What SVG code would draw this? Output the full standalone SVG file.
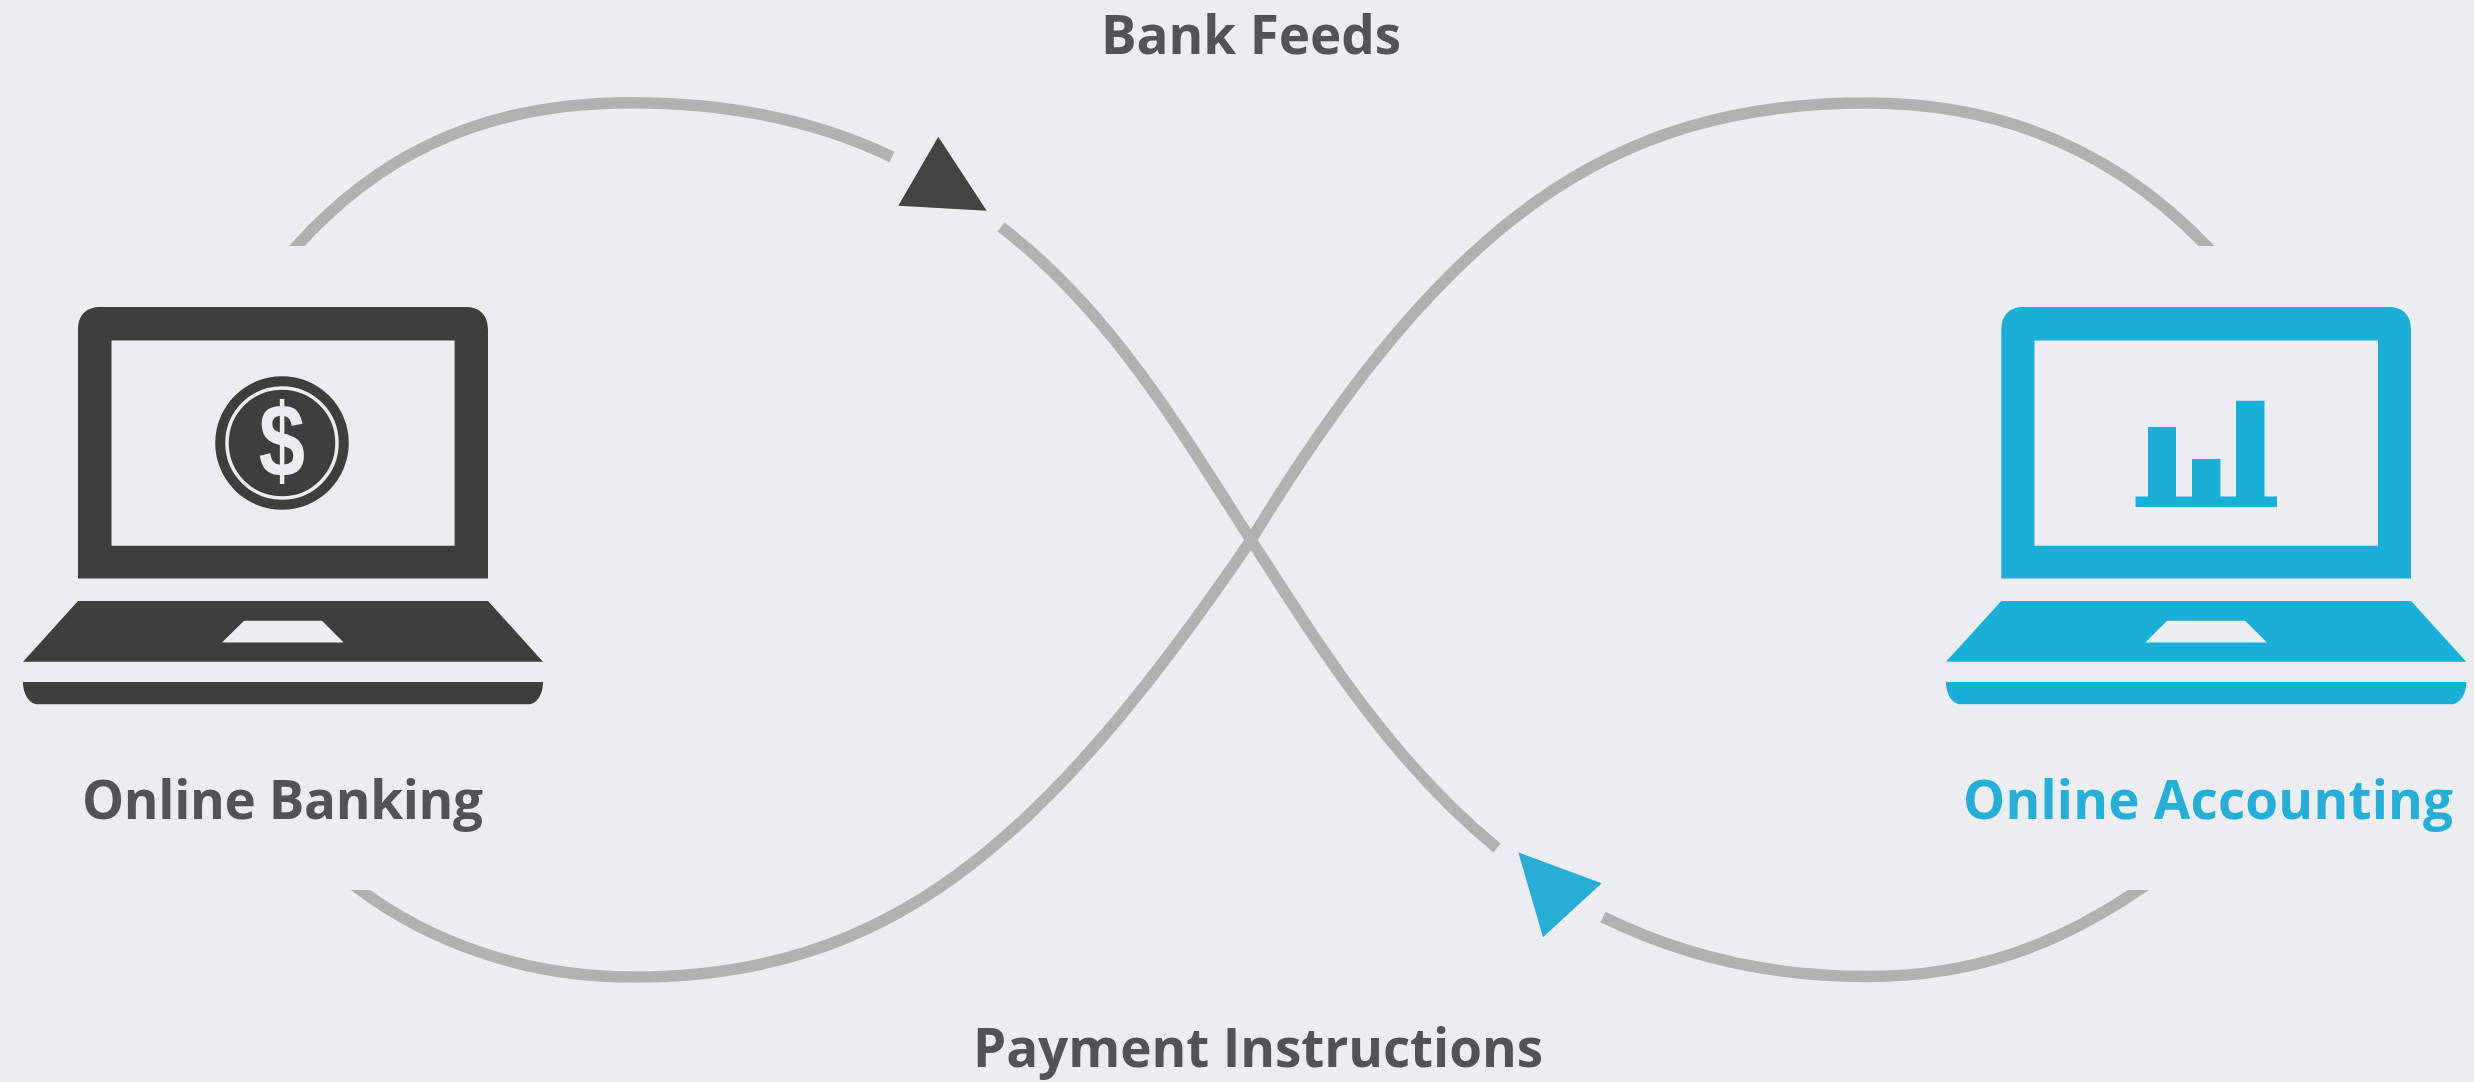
<svg xmlns="http://www.w3.org/2000/svg" width="2474" height="1082" viewBox="0 0 2474 1082">
<style>
.lbl{font-family:"Open Sans","Noto Sans",sans-serif;font-weight:700;font-size:53px;fill:#545259}
.curve{fill:none;stroke:#b1b1b1;stroke-width:11.5}
.dark{fill:#3e3e3c}
.blue{fill:#19afd7}
</style>
<defs>
<clipPath id="endClip"><path clip-rule="evenodd" d="M0 0H2474V1082H0ZM0 246V890H500V246ZM1970 246V890H2474V246Z"/></clipPath>
</defs>
<rect width="2474" height="1082" fill="#ecedf1"/>
<g id="connectors">
<g clip-path="url(#endClip)">
<path class="curve" d="M286 258L296.7 246C370 165 470 102.7 631 102.7C725 102.7 815 120 892 157"/>
<path class="curve" d="M1001 227C1110 310 1180 430 1251 540C1322 650 1390 760 1497 848"/>
<path class="curve" d="M1603 917C1680 955 1770 976.5 1867 976.5C1970 976.5 2060 948 2160 875"/>
<path class="curve" d="M338 873L359 889C430 942 525 977 633 977C885 977 1040 850 1251 540C1445 222 1610 103 1867 103C1985 103 2110 140 2216 256"/>
</g>
<polygon points="938.3,136.7 898.3,205.7 986.7,210.7" fill="#444442"/>
<polygon points="1518.3,852.3 1601.7,883.3 1543,937.3" fill="#27aed6"/>
</g>
<g id="online-banking">
<path class="dark" fill-rule="evenodd" d="M78 578.6V330C78 315 86 307 101 307H465C480 307 488 315 488 330V578.6ZM111.5 340.4V545.7H454.6V340.4Z"/>
<path class="dark" fill-rule="evenodd" d="M78 601H488L543 661.8H23ZM244 620.7L222 642.5H343.6L322 620.7Z"/>
<path class="dark" d="M23 682H543C543 694 537 704.3 528 704.3H38C29 704.3 23 694 23 682Z"/>
<circle class="dark" cx="282" cy="443" r="66.8"/>
<circle cx="282" cy="443" r="55" fill="none" stroke="#ecedf1" stroke-width="3.5"/>
<text transform="translate(282 476) scale(.8 1)" text-anchor="middle" font-family="Liberation Sans" font-weight="700" font-size="104" fill="#ecedf1">$</text>
<text class="lbl" x="82" y="819" textLength="401" lengthAdjust="spacing">Online Banking</text>
</g>
<g id="online-accounting">
<path class="blue" fill-rule="evenodd" d="M2001.3 578.6V330C2001.3 315 2009 307 2024 307H2388C2403 307 2411 315 2411 330V578.6ZM2034.5 340.4V545.7H2378V340.4Z"/>
<path class="blue" fill-rule="evenodd" d="M2001.3 601H2411L2466.3 661.8H1946ZM2167 620.7L2145.4 642.5H2267L2245 620.7Z"/>
<path class="blue" d="M1946 682H2466.3C2466.3 694 2460 704.3 2451 704.3H1961C1952 704.3 1946 694 1946 682Z"/>
<path class="blue" d="M2135.5 496.4H2148V427H2176V496.4H2192V459H2220.4V496.4H2236V400.7H2264.5V496.4H2277V507H2135.5Z"/>
<text class="lbl" x="1963" y="819" textLength="490" lengthAdjust="spacing" style="fill:#27aed6">Online Accounting</text>
</g>
<text class="lbl" x="1101" y="54" textLength="300" lengthAdjust="spacing">Bank Feeds</text>
<text class="lbl" x="973" y="1067" textLength="570" lengthAdjust="spacing">Payment Instructions</text>
</svg>
